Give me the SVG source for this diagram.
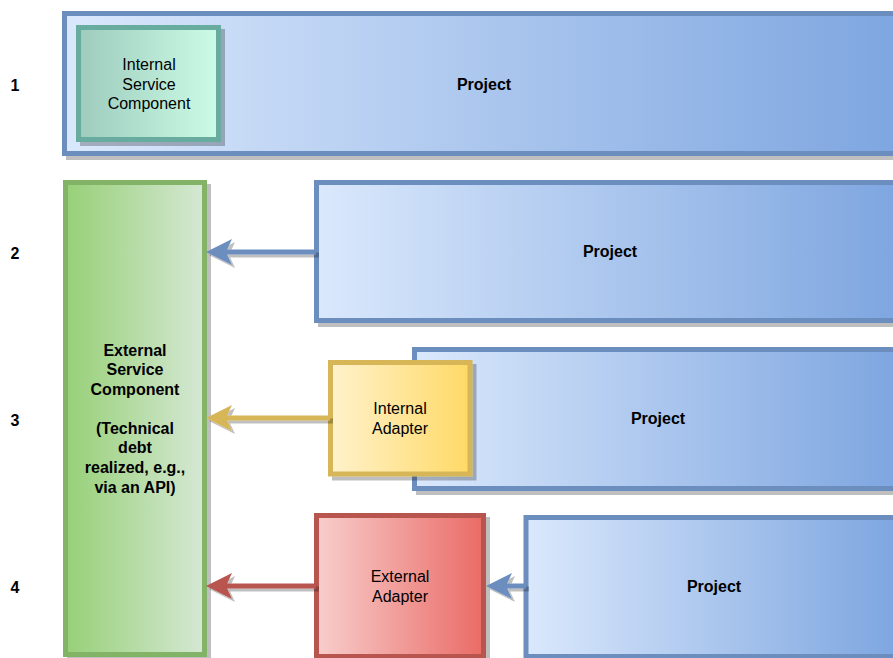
<svg xmlns="http://www.w3.org/2000/svg" width="893" height="658" viewBox="0 0 893 658">
<defs>
<style>
text{font-family:"Liberation Sans",Arial,Helvetica,sans-serif;font-size:16px;fill:#000;text-anchor:middle;dominant-baseline:central}
.b{font-weight:bold}
.proj{fill:url(#gBlue);stroke:#6c8ebf;stroke-width:5}
.line{fill:none;stroke-width:5}
</style>
<linearGradient id="gBlue" x1="0" y1="0" x2="1" y2="0"><stop offset="0" stop-color="#dae8fc"/><stop offset="1" stop-color="#7ea6e0"/></linearGradient>
<linearGradient id="gTeal" x1="0" y1="0" x2="1" y2="0"><stop offset="0" stop-color="#9ecbbd"/><stop offset="1" stop-color="#ccfce6"/></linearGradient>
<linearGradient id="gGreen" x1="0" y1="0" x2="1" y2="0"><stop offset="0" stop-color="#97d077"/><stop offset="1" stop-color="#d5e8d4"/></linearGradient>
<linearGradient id="gYellow" x1="0" y1="0" x2="1" y2="0"><stop offset="0" stop-color="#fff2cc"/><stop offset="1" stop-color="#ffd966"/></linearGradient>
<linearGradient id="gRed" x1="0" y1="0" x2="1" y2="0"><stop offset="0" stop-color="#f8cecc"/><stop offset="1" stop-color="#ea6b66"/></linearGradient>
<filter id="sh" x="-10%" y="-10%" width="130%" height="130%"><feDropShadow dx="4" dy="4" stdDeviation="0" flood-color="#000" flood-opacity="0.25"/></filter>
<filter id="shl" x="-10%" y="-50%" width="130%" height="300%"><feDropShadow dx="3" dy="3" stdDeviation="0" flood-color="#000" flood-opacity="0.25"/></filter>
<marker id="aBlue" viewBox="0 0 26 26" markerUnits="userSpaceOnUse" markerWidth="26" markerHeight="26" refX="6" refY="13" orient="auto"><path d="M0,0 L26,13 L0,26 L6,13 Z" fill="#6c8ebf"/></marker>
<marker id="aYellow" viewBox="0 0 26 26" markerUnits="userSpaceOnUse" markerWidth="26" markerHeight="26" refX="6" refY="13" orient="auto"><path d="M0,0 L26,13 L0,26 L6,13 Z" fill="#d6b656"/></marker>
<marker id="aRed" viewBox="0 0 26 26" markerUnits="userSpaceOnUse" markerWidth="26" markerHeight="26" refX="6" refY="13" orient="auto"><path d="M0,0 L26,13 L0,26 L6,13 Z" fill="#b85450"/></marker>
</defs>
<rect width="893" height="658" fill="#fff"/>
<g id="labels">
<text x="15" y="85" class="b">1</text>
<text x="15" y="253" class="b">2</text>
<text x="15" y="420" class="b">3</text>
<text x="15" y="587" class="b">4</text>
</g>
<g id="project1">
<rect class="proj" x="64.5" y="13.5" width="832" height="140" filter="url(#sh)"/>
<text x="484" y="84" class="b">Project</text>
</g>
<g id="internal-service">
<rect x="78.5" y="27.5" width="140" height="112" fill="url(#gTeal)" stroke="#67ab9f" stroke-width="5" filter="url(#sh)"/>
<text x="149" y="64">Internal</text>
<text x="149" y="84">Service</text>
<text x="149" y="103">Component</text>
</g>
<g id="external-service">
<rect x="65.5" y="182.5" width="139" height="472" fill="url(#gGreen)" stroke="#82b366" stroke-width="5" filter="url(#sh)"/>
<text x="135" y="350" class="b">External</text>
<text x="135" y="369" class="b">Service</text>
<text x="135" y="389" class="b">Component</text>
<text x="135" y="428" class="b">(Technical</text>
<text x="135" y="447" class="b">debt</text>
<text x="135" y="467" class="b">realized, e.g.,</text>
<text x="135" y="487" class="b">via an API)</text>
</g>
<g id="project2">
<rect class="proj" x="316.5" y="182.5" width="580" height="138" filter="url(#sh)"/>
<text x="610" y="251" class="b">Project</text>
</g>
<g id="project3">
<rect class="proj" x="414.5" y="349.5" width="482" height="139" filter="url(#sh)"/>
<text x="658" y="418" class="b">Project</text>
</g>
<g id="internal-adapter">
<rect x="330.5" y="362.5" width="139.5" height="111.5" fill="url(#gYellow)" stroke="#d6b656" stroke-width="5" filter="url(#sh)"/>
<text x="400" y="408">Internal</text>
<text x="400" y="428">Adapter</text>
</g>
<g id="project4">
<rect class="proj" x="526" y="517.5" width="370" height="139" filter="url(#sh)"/>
<text x="714" y="586" class="b">Project</text>
</g>
<g id="external-adapter">
<rect x="316.5" y="515.5" width="167" height="141" fill="url(#gRed)" stroke="#b85450" stroke-width="5" filter="url(#sh)"/>
<text x="400" y="576">External</text>
<text x="400" y="596">Adapter</text>
</g>
<g id="connectors" filter="url(#shl)">
<path class="line" d="M316,252 H226" stroke="#6c8ebf" marker-end="url(#aBlue)"/>
<path class="line" d="M330,418 H226" stroke="#d6b656" marker-end="url(#aYellow)"/>
<path class="line" d="M316,586 H226" stroke="#b85450" marker-end="url(#aRed)"/>
<path class="line" d="M526,586 H506" stroke="#6c8ebf" marker-end="url(#aBlue)"/>
</g>
</svg>
